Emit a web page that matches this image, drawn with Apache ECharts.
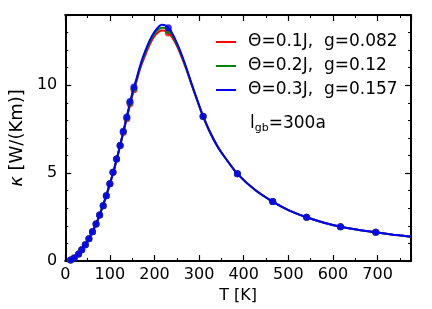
<!DOCTYPE html>
<html><head><meta charset="utf-8">
<script src="https://cdn.jsdelivr.net/npm/echarts@6/dist/echarts.min.js"></script>
<style>html,body{margin:0;padding:0;background:#fff}#c{width:432px;height:309px}</style>
</head><body><div id="c"></div>
<script>
// marker temperatures and values
const T_points = [12,20,30,37,45,53,61,69,77,85,92,100,107,115,123,130,138,145,154,231,309,386,465,541,617,696];
const red_points   = [0.06,0.17,0.40,0.64,0.93,1.27,1.67,2.11,2.62,3.15,3.72,4.39,5.05,5.81,6.57,7.32,8.10,8.95,9.75,12.98,8.22,4.96,3.38,2.49,1.95,1.63];
const green_points = [0.06,0.17,0.40,0.64,0.93,1.27,1.67,2.11,2.62,3.15,3.72,4.39,5.05,5.81,6.57,7.35,8.15,9.02,9.82,13.12,8.23,4.96,3.38,2.49,1.95,1.63];
const blue_points  = [0.06,0.17,0.40,0.64,0.93,1.27,1.67,2.11,2.62,3.15,3.72,4.39,5.05,5.81,6.57,7.39,8.19,9.08,9.90,13.28,8.24,4.96,3.38,2.49,1.95,1.63];
// curve samples
const T_curve = [10,20,30,40,50,60,70,80,90,100,110,120,130,140,150,160,170,180,190,200,210,216,225,235,245,257,270,283,296,309,325,343,365,386,425,465,500,541,580,617,655,696,735,775];
const red_curve   = [0.04,0.17,0.40,0.73,1.13,1.62,2.15,2.83,3.57,4.39,5.26,6.24,7.30,8.35,9.38,10.25,11.10,11.75,12.35,12.80,13.05,13.12,13.10,12.88,12.50,11.85,11.00,10.05,9.12,8.22,7.30,6.45,5.65,4.96,4.05,3.38,2.90,2.49,2.18,1.95,1.78,1.63,1.50,1.38];
const green_curve = [0.04,0.17,0.40,0.73,1.13,1.62,2.15,2.83,3.57,4.39,5.27,6.26,7.32,8.40,9.45,10.33,11.20,11.88,12.48,12.93,13.20,13.28,13.25,13.02,12.60,11.93,11.05,10.08,9.14,8.23,7.30,6.45,5.65,4.96,4.05,3.38,2.90,2.49,2.18,1.95,1.78,1.63,1.50,1.38];
const blue_curve  = [0.04,0.17,0.40,0.73,1.13,1.62,2.15,2.83,3.57,4.39,5.28,6.28,7.35,8.45,9.52,10.40,11.30,12.00,12.60,13.05,13.35,13.45,13.40,13.15,12.70,12.00,11.10,10.10,9.15,8.24,7.30,6.45,5.65,4.96,4.05,3.38,2.90,2.49,2.18,1.95,1.78,1.63,1.50,1.38];
const names = ['Θ=0.1J,  g=0.082','Θ=0.2J,  g=0.12','Θ=0.3J,  g=0.157'];
const colors = ['#ff0000','#008000','#0000ff'];
const xTicks = {min:0,max:775,interval:100};
const yTicks = {min:0,max:14,interval:5};

const FONT = 'DejaVu Sans';
const zip = (xs, ys) => xs.map((x,i)=>[x, ys[i]]);
const curves = [red_curve, green_curve, blue_curve];
const pts = [red_points, green_points, blue_points];
const series = [];
for (let i=0;i<3;i++){
  series.push({type:'line', name:names[i], data:zip(T_curve,curves[i]), smooth:0.4, showSymbol:false, symbol:'none',
    lineStyle:{color:colors[i], width:2}, itemStyle:{color:colors[i]}, z:2+i*2, animation:false});
  series.push({type:'scatter', name:names[i]+'_pts', data:zip(T_points,pts[i]), symbol:'circle', symbolSize:7,
    itemStyle:{color:colors[i]}, z:3+i*2, animation:false});
}
const axisCommon = {
  axisLine:{show:true, onZero:false, lineStyle:{color:'#000', width:2}},
  axisTick:{show:true, inside:true, length:6, lineStyle:{color:'#000', width:1.2}},
  splitLine:{show:false},
};
const chart = echarts.init(document.getElementById('c'), null, {renderer:'canvas'});
chart.setOption({
  animation:false,
  backgroundColor:'#fff',
  grid:{left:65, right:21, top:15, bottom:47},
  xAxis:[
    Object.assign({type:'value', position:'bottom', min:xTicks.min, max:xTicks.max, interval:xTicks.interval,
      name:'T [K]', nameLocation:'middle', nameGap:27,
      nameTextStyle:{fontFamily:FONT, fontSize:16, color:'#000'},
      axisLabel:{fontFamily:FONT, fontSize:16, color:'#000', margin:6, showMaxLabel:false}}, axisCommon,
      {minorTick:{show:true, splitNumber:2, length:3, lineStyle:{color:'#000', width:1}}}),
    Object.assign({type:'value', position:'top', min:xTicks.min, max:xTicks.max, interval:xTicks.interval,
      axisLabel:{show:false}}, axisCommon,
      {minorTick:{show:true, splitNumber:2, length:3, lineStyle:{color:'#000', width:1}}})
  ],
  yAxis:[
    Object.assign({type:'value', position:'left', min:yTicks.min, max:yTicks.max, interval:yTicks.interval,
      name:'{k|κ} [W/(Km)]', nameLocation:'middle', nameGap:38, nameRotate:90,
      nameTextStyle:{fontFamily:FONT, fontSize:18, color:'#000', rich:{k:{fontFamily:FONT, fontSize:18, fontStyle:'italic', color:'#000'}}},
      axisLabel:{fontFamily:FONT, fontSize:16, color:'#000', margin:8, showMaxLabel:false}}, axisCommon,
      {minorTick:{show:true, splitNumber:5, length:3, lineStyle:{color:'#000', width:1}}}),
    Object.assign({type:'value', position:'right', min:yTicks.min, max:yTicks.max, interval:yTicks.interval,
      axisLabel:{show:false}}, axisCommon,
      {minorTick:{show:true, splitNumber:5, length:3, lineStyle:{color:'#000', width:1}}})
  ],
  legend:{
    data:names.map((n,i)=>({name:n, icon:'rect', itemStyle:{color:colors[i]}})),
    orient:'vertical', left:216, top:33, padding:0, itemWidth:20, itemHeight:2, itemGap:6,
    textStyle:{fontFamily:FONT, fontSize:17, color:'#000', padding:[0,0,0,7], lineHeight:18},
    selectedMode:false
  },
  graphic:[{type:'text', left:250, top:115,
    style:{text:'{l|l}{s|gb}{l|=300a}', rich:{l:{fontFamily:FONT, fontSize:17, fill:'#000'}, s:{fontFamily:FONT, fontSize:11, fill:'#000', verticalAlign:'bottom', padding:[9,0,0,0]}}}}],
  series
});
</script></body></html>
